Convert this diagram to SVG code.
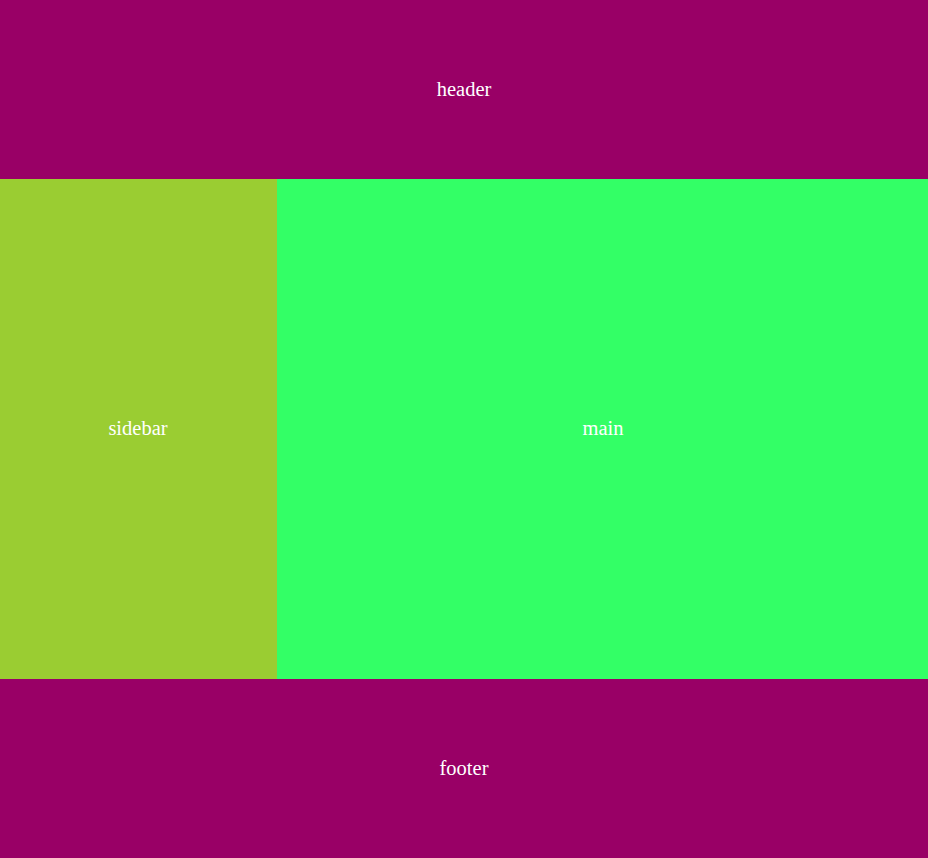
<svg xmlns="http://www.w3.org/2000/svg" width="928" height="858" viewBox="0 0 928 858">
<style>
.lbl{font-family:"Liberation Serif","Times New Roman",serif;font-size:20.5px;fill:#ffffff;text-anchor:middle;dominant-baseline:central}
.band{fill:#990066}
</style>
<g id="header"><rect class="band" x="0" y="0" width="928" height="179"/><text class="lbl" x="464" y="88.5">header</text></g>
<g id="sidebar"><rect x="0" y="179" width="277" height="500" fill="#9acd32"/><text class="lbl" x="138" y="428">sidebar</text></g>
<g id="main"><rect x="277" y="179" width="651" height="500" fill="#33ff66"/><text class="lbl" x="603" y="428">main</text></g>
<g id="footer"><rect class="band" x="0" y="679" width="928" height="179"/><text class="lbl" x="464" y="768">footer</text></g>
<g id="connectors"/>
</svg>
